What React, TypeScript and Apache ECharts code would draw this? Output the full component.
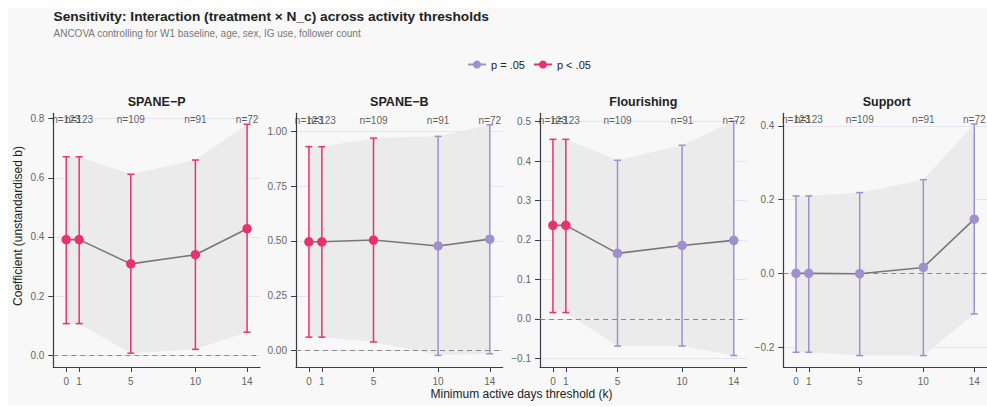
import React, { useEffect, useRef } from "react";
import * as echarts from "echarts";

// ---------- data ----------
const thresholds = [0, 1, 5, 10, 14];
const nLabels = ["n=123", "n=123", "n=109", "n=91", "n=72"];
const panelTitles = ["SPANE−P", "SPANE−B", "Flourishing", "Support"];

const spanePEst = [0.391, 0.391, 0.309, 0.34, 0.428];
const spanePLo = [0.107, 0.107, 0.007, 0.02, 0.078];
const spanePHi = [0.671, 0.671, 0.612, 0.66, 0.781];
const spanePSig = [1, 1, 1, 1, 1];

const spaneBEst = [0.496, 0.496, 0.504, 0.477, 0.508];
const spaneBLo = [0.062, 0.062, 0.04, -0.021, -0.014];
const spaneBHi = [0.929, 0.929, 0.968, 0.976, 1.029];
const spaneBSig = [1, 1, 1, 0, 0];

const flourEst = [0.237, 0.237, 0.166, 0.186, 0.199];
const flourLo = [0.016, 0.016, -0.069, -0.069, -0.093];
const flourHi = [0.455, 0.455, 0.402, 0.44, 0.501];
const flourSig = [1, 1, 0, 0, 0];

const supportEst = [0.0, 0.0, -0.001, 0.016, 0.147];
const supportLo = [-0.214, -0.214, -0.223, -0.223, -0.11];
const supportHi = [0.21, 0.21, 0.219, 0.254, 0.405];
const supportSig = [0, 0, 0, 0, 0];

const yTicks = [
  [0, 0.2, 0.4, 0.6, 0.8],
  [0, 0.25, 0.5, 0.75, 1.0],
  [-0.1, 0, 0.1, 0.2, 0.3, 0.4, 0.5],
  [-0.2, 0, 0.2, 0.4],
];
const yDecimals = [1, 2, 1, 1];
const yRanges = [
  [-0.0396, 0.818],
  [-0.074, 1.081],
  [-0.122, 0.521],
  [-0.254, 0.434],
];
const nLabelY = [0.797, 1.05, 0.5025, 0.416];

const legendNames = ["p = .05", "p < .05"];

// ---------- style ----------
const PINK = "#e7326d";
const PURPLE = "#9d90cc";
const AXIS = "#3a3a4a";
const FONT = "'Liberation Sans', Arial, Helvetica, sans-serif";

const panels = [
  { est: spanePEst, lo: spanePLo, hi: spanePHi, sig: spanePSig },
  { est: spaneBEst, lo: spaneBLo, hi: spaneBHi, sig: spaneBSig },
  { est: flourEst, lo: flourLo, hi: flourHi, sig: flourSig },
  { est: supportEst, lo: supportLo, hi: supportHi, sig: supportSig },
];

const gridLefts = [45.3, 288, 532, 775.3];
const gridTop = 105.3;
const gridW = 206.7;
const gridH = 253.7;

function fmt(v: number, d: number) {
  const r = Math.round(v * 10000) / 10000;
  return (r < 0 ? "−" : "") + Math.abs(r).toFixed(d);
}

export default function App() {
  const ref = useRef<HTMLDivElement>(null);
  useEffect(() => {
    if (!ref.current) return;
    const chart = echarts.init(ref.current, null, { renderer: "svg" });

    const grid: any[] = [];
    const xAxis: any[] = [];
    const yAxis: any[] = [];
    const series: any[] = [];
    const graphic: any[] = [];

    panels.forEach((p, i) => {
      grid.push({ left: gridLefts[i], top: gridTop, width: gridW, height: gridH });
      xAxis.push({
        type: "value",
        gridIndex: i,
        min: -1,
        max: 15,
        axisLine: { show: true, onZero: false, lineStyle: { color: AXIS, width: 1.2 } },
        axisTick: { show: true, customValues: thresholds, length: 5, lineStyle: { color: AXIS, width: 1 } },
        axisLabel: { customValues: thresholds, fontSize: 10, color: "#666", margin: 9, fontFamily: FONT },
        splitLine: { show: false },
      });
      yAxis.push({
        type: "value",
        gridIndex: i,
        min: yRanges[i][0],
        max: yRanges[i][1],
        axisLine: { show: true, onZero: false, lineStyle: { color: AXIS, width: 1.2 } },
        axisTick: { show: true, customValues: yTicks[i], length: 5, lineStyle: { color: AXIS, width: 1 } },
        axisLabel: {
          customValues: yTicks[i],
          fontSize: 10,
          color: "#666",
          margin: 9,
          fontFamily: FONT,
          formatter: (v: number) => fmt(v, yDecimals[i]),
        },
        splitLine: { show: false },
      });

      // horizontal gridlines at the tick values
      series.push({
        type: "line",
        xAxisIndex: i,
        yAxisIndex: i,
        silent: true,
        z: 0,
        symbol: "none",
        lineStyle: { opacity: 0, width: 0 },
        data: thresholds.map((k, j) => [k, p.est[j]]),
        markLine: {
          silent: true,
          symbol: "none",
          z: 0,
          label: { show: false },
          lineStyle: { color: "#e6e3f2", type: "solid", width: 1 },
          data: yTicks[i].map((v) => ({ yAxis: v })),
        },
      });

      // ribbon
      series.push({
        type: "custom",
        xAxisIndex: i,
        yAxisIndex: i,
        silent: true,
        z: 1,
        data: [[thresholds[0], p.est[0]]],
        renderItem: (_params: any, api: any) => {
          const pts: number[][] = [];
          for (let j = 0; j < thresholds.length; j++) pts.push(api.coord([thresholds[j], p.hi[j]]));
          for (let j = thresholds.length - 1; j >= 0; j--) pts.push(api.coord([thresholds[j], p.lo[j]]));
          return { type: "polygon", shape: { points: pts }, style: { fill: "#ebebeb" } };
        },
      });

      // mean line + zero reference
      series.push({
        type: "line",
        xAxisIndex: i,
        yAxisIndex: i,
        silent: true,
        z: 3,
        symbol: "none",
        data: thresholds.map((k, j) => [k, p.est[j]]),
        lineStyle: { color: "#777777", width: 1.6 },
        markLine: {
          silent: true,
          symbol: "none",
          label: { show: false },
          lineStyle: { color: "#8a8a8a", type: [5, 4], width: 1 },
          data: [{ yAxis: 0 }],
          z: 2,
        },
      });

      // error bars
      series.push({
        type: "custom",
        xAxisIndex: i,
        yAxisIndex: i,
        silent: true,
        z: 4,
        encode: { x: 0, y: [1, 2] },
        data: thresholds.map((k, j) => [k, p.lo[j], p.hi[j], p.sig[j]]),
        renderItem: (_params: any, api: any) => {
          const x = api.value(0);
          const top = api.coord([x, api.value(2)]);
          const bot = api.coord([x, api.value(1)]);
          const color = api.value(3) ? PINK : PURPLE;
          const st = { stroke: color, lineWidth: 1.5 };
          const cw = 3.5;
          return {
            type: "group",
            children: [
              { type: "line", shape: { x1: top[0], y1: top[1], x2: bot[0], y2: bot[1] }, style: st },
              { type: "line", shape: { x1: top[0] - cw, y1: top[1], x2: top[0] + cw, y2: top[1] }, style: st },
              { type: "line", shape: { x1: bot[0] - cw, y1: bot[1], x2: bot[0] + cw, y2: bot[1] }, style: st },
            ],
          };
        },
      });

      // points
      [0, 1].forEach((s) => {
        series.push({
          type: "line",
          name: legendNames[s],
          xAxisIndex: i,
          yAxisIndex: i,
          z: 5,
          symbol: "circle",
          symbolSize: 9.5,
          showSymbol: true,
          color: s ? PINK : PURPLE,
          itemStyle: { color: s ? PINK : PURPLE },
          lineStyle: { width: 0, opacity: 0, color: s ? PINK : PURPLE },
          data: thresholds
            .map((k, j) => (p.sig[j] === s ? [k, p.est[j]] : null))
            .filter((d) => d !== null),
        });
      });

      // n labels
      series.push({
        type: "scatter",
        xAxisIndex: i,
        yAxisIndex: i,
        silent: true,
        z: 6,
        symbolSize: 1,
        itemStyle: { color: "rgba(0,0,0,0)" },
        data: thresholds.map((k) => [k, nLabelY[i]]),
        label: {
          show: true,
          position: "inside",
          formatter: (prm: any) => nLabels[prm.dataIndex],
          fontSize: 10,
          color: "#333",
          fontFamily: FONT,
        },
        labelLayout: { hideOverlap: false },
      });

      graphic.push({
        type: "text",
        x: gridLefts[i] + gridW / 2,
        y: 94,
        style: {
          text: panelTitles[i],
          fontSize: 12.5,
          fontWeight: "bold",
          fill: "#222",
          fontFamily: FONT,
          textAlign: "center",
          textVerticalAlign: "middle",
        },
      });
    });

    graphic.push(
      {
        type: "text",
        x: 45.5,
        y: 8,
        style: {
          text: "Sensitivity: Interaction (treatment × N_c) across activity thresholds",
          fontSize: 13.7,
          fontWeight: "bold",
          fill: "#222",
          fontFamily: FONT,
          textAlign: "left",
          textVerticalAlign: "middle",
        },
      },
      {
        type: "text",
        x: 45.5,
        y: 25.3,
        style: {
          text: "ANCOVA controlling for W1 baseline, age, sex, IG use, follower count",
          fontSize: 10,
          fill: "#777",
          fontFamily: FONT,
          textAlign: "left",
          textVerticalAlign: "middle",
        },
      },
      {
        type: "text",
        x: 513.5,
        y: 386,
        style: {
          text: "Minimum active days threshold (k)",
          fontSize: 12,
          fill: "#222",
          fontFamily: FONT,
          textAlign: "center",
          textVerticalAlign: "middle",
        },
      },
      {
        type: "text",
        x: 10,
        y: 218,
        rotation: Math.PI / 2,
        style: {
          text: "Coefficient (unstandardised b)",
          fontSize: 12,
          fill: "#222",
          fontFamily: FONT,
          textAlign: "center",
          textVerticalAlign: "middle",
        },
      }
    );

    chart.setOption({
      animation: false,
      backgroundColor: "#f8f8f8",
      textStyle: { fontFamily: FONT },
      legend: {
        data: legendNames,
        left: 454,
        top: 46,
        itemWidth: 18,
        itemHeight: 10,
        itemGap: 8,
        textStyle: { fontSize: 11, color: "#222", fontFamily: FONT },
        lineStyle: { width: 2, opacity: 1 },
      },
      grid,
      xAxis,
      yAxis,
      series,
      graphic,
    });
    return () => chart.dispose();
  }, []);

  return (
    <div
      ref={ref}
      style={{ position: "fixed", left: 8, top: 8, width: 979, height: 398, background: "#f8f8f8" }}
    />
  );
}
